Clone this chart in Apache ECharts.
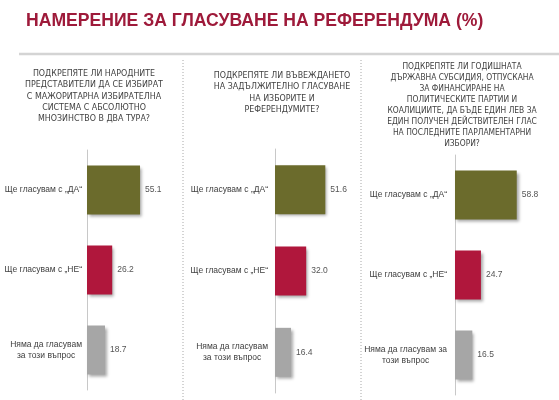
<!DOCTYPE html>
<html>
<head>
<meta charset="utf-8">
<script src="https://cdn.jsdelivr.net/npm/echarts@6/dist/echarts.min.js"></script>
<style>
	html, body { margin: 0; padding: 0; background: #fff; }
	#main { width: 559px; height: 400px; }
</style>
</head>
<body>
<div id="main"></div>
<script>
var titleText = 'НАМЕРЕНИЕ ЗА ГЛАСУВАНЕ НА РЕФЕРЕНДУМА (%)';

var questions = [
	'ПОДКРЕПЯТЕ ЛИ НАРОДНИТЕ\nПРЕДСТАВИТЕЛИ ДА СЕ ИЗБИРАТ\nС МАЖОРИТАРНА ИЗБИРАТЕЛНА\nСИСТЕМА С АБСОЛЮТНО\nМНОЗИНСТВО В ДВА ТУРА?',
	'ПОДКРЕПЯТЕ ЛИ ВЪВЕЖДАНЕТО\nНА ЗАДЪЛЖИТЕЛНО ГЛАСУВАНЕ\nНА ИЗБОРИТЕ И\nРЕФЕРЕНДУМИТЕ?',
	'ПОДКРЕПЯТЕ ЛИ ГОДИШНАТА\nДЪРЖАВНА СУБСИДИЯ, ОТПУСКАНА\nЗА ФИНАНСИРАНЕ НА\nПОЛИТИЧЕСКИТЕ ПАРТИИ И\nКОАЛИЦИИТЕ, ДА БЪДЕ ЕДИН ЛЕВ ЗА\nЕДИН ПОЛУЧЕН ДЕЙСТВИТЕЛЕН ГЛАС\nНА ПОСЛЕДНИТЕ ПАРЛАМЕНТАРНИ\nИЗБОРИ?'
];

var categories1 = ['Ще гласувам с „ДА“', 'Ще гласувам с „НЕ“', 'Няма да гласувам\nза този въпрос'];
var categories2 = ['Ще гласувам с „ДА“', 'Ще гласувам с „НЕ“', 'Няма да гласувам\nза този въпрос'];
var categories3 = ['Ще гласувам с „ДА“', 'Ще гласувам с „НЕ“', 'Няма да гласувам за\nтози въпрос'];

var values1 = [55.1, 26.2, 18.7];
var values2 = [51.6, 32.0, 16.4];
var values3 = [58.8, 24.7, 16.5];

var barColors = ['#6b6b2c', '#b0173c', '#a6a6a6'];

var QFONT = '"DejaVu Sans Condensed", "DejaVu Sans", sans-serif';
var LFONT = '"Liberation Sans", Arial, sans-serif';

// placement of the three panels
var panels = [
	{left: 87, top: 150, height: 240, width: 77, cats: categories1, vals: values1, qx: 94, qy: 68, lh: 11.3, qf: 8.8, lm: 5},
	{left: 275, top: 149, height: 244, width: 78, cats: categories2, vals: values2, qx: 282, qy: 70, lh: 11.3, qf: 8.8, lm: 7},
	{left: 455, top: 155, height: 240, width: 84, cats: categories3, vals: values3, qx: 462, qy: 61.5, lh: 11, qf: 8.4, lm: 8}
];

var grids = [], xAxes = [], yAxes = [], series = [], graphics = [];

graphics.push( {
	type: 'text', left: 26, top: 12,
	style: {text: titleText, fill: '#9e1a3a', font: 'bold 17.6px ' + LFONT}
} );
graphics.push( {
	type: 'line', shape: {x1: 19, y1: 54, x2: 559, y2: 54},
	style: {stroke: '#d4d4d4', lineWidth: 2.5}
} );
[183, 361].forEach( function(x){
	graphics.push( {
		type: 'line', shape: {x1: x, y1: 60, x2: x, y2: 400},
		style: {stroke: '#a8a8a8', lineWidth: 1, lineDash: [1, 2]}
	} );
} );

panels.forEach( function(p, i){
	graphics.push( {
		type: 'text', x: p.qx, y: p.qy,
		style: {
			text: questions[i], fill: '#3f3f3f', align: 'center', verticalAlign: 'top',
			font: p.qf + 'px ' + QFONT, lineHeight: p.lh
		}
	} );
	grids.push( {left: p.left, top: p.top, width: p.width, height: p.height, outerBoundsMode: 'none', containLabel: false} );
	xAxes.push( {
		type: 'value', gridIndex: i, min: 0, max: 80, show: false
	} );
	yAxes.push( {
		type: 'category', gridIndex: i, inverse: true, data: p.cats,
		axisLine: {lineStyle: {color: '#c8c8c8'}},
		axisTick: {length: 3, lineStyle: {color: '#c8c8c8'}},
		axisLabel: {
			margin: p.lm,
			formatter: function(v){ return '{c|' + v.split( '\n' ).join( '}\n{c|' ) + '}'; },
			rich: {c: {align: 'center', fontFamily: LFONT, fontSize: 8.5, color: '#404040', lineHeight: 11.5}}
		}
	} );
	series.push( {
		type: 'bar', xAxisIndex: i, yAxisIndex: i, barWidth: 49,
		data: p.vals.map( function(v, j){
			return {value: v, itemStyle: {color: barColors[j]}};
		} ),
		itemStyle: {
			shadowColor: 'rgba(0,0,0,0.35)', shadowBlur: 3, shadowOffsetX: 2, shadowOffsetY: 2
		},
		label: {
			show: true, position: 'right', distance: 5,
			fontFamily: LFONT, fontSize: 8.5, color: '#555',
			formatter: function(d){ return d.value.toFixed( 1 ); }
		},
		silent: true
	} );
} );

var chart = echarts.init( document.getElementById( 'main' ), null, {renderer: 'canvas'} );
chart.setOption( {
	animation: false,
	grid: grids,
	xAxis: xAxes,
	yAxis: yAxes,
	series: series,
	graphic: graphics
} );
</script>
</body>
</html>
